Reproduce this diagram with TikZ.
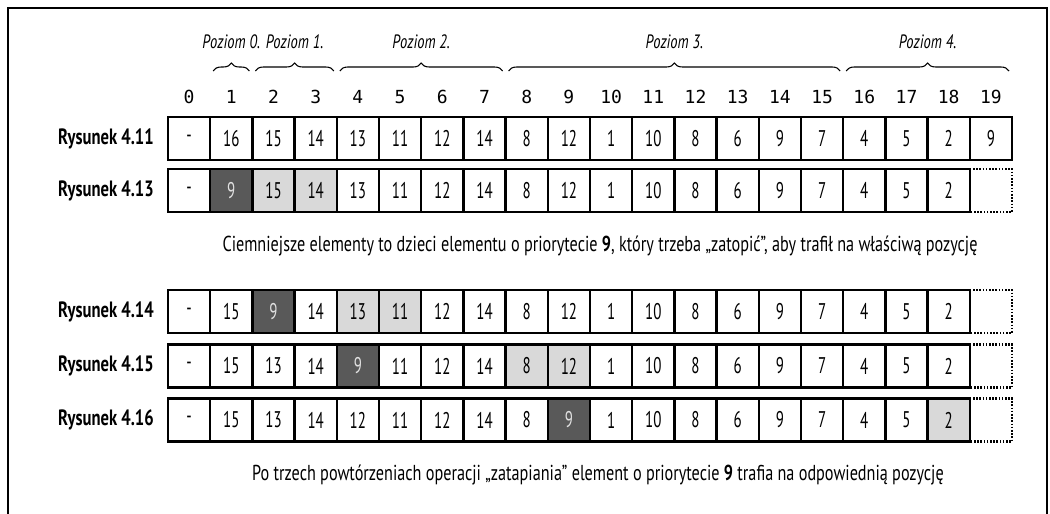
\documentclass[tikz,border=0pt]{standalone}
\usepackage{fontspec}
\setmainfont{PT Sans}[FakeStretch=0.75]
\setmonofont{DejaVu Sans Mono}
\newfontfamily\cellfont{PT Sans}[FakeStretch=0.66]
\usetikzlibrary{decorations.pathreplacing}

\definecolor{darkcell}{gray}{0.35}
\definecolor{lightcell}{gray}{0.85}
\definecolor{darktext}{gray}{0.88}

\tikzset{
  cell/.style={draw, line width=1.9pt, minimum width=31.65pt, minimum height=32.25pt,
    inner sep=0pt, outer sep=0pt, font=\cellfont\fontsize{17}{20}\selectfont},
  cp/.style={fill=white},
  cd/.style={fill=darkcell, text=darktext},
  cl/.style={fill=lightcell},
  ghost/.style={minimum width=31.65pt, minimum height=32.25pt, inner sep=0pt, outer sep=0pt},
  rowlabel/.style={anchor=east, inner sep=0pt, font=\bfseries\fontsize{16.6}{20}\selectfont},
  idx/.style={font=\ttfamily\fontsize{13.5}{16}\selectfont},
  level/.style={inner sep=0pt, font=\itshape\fontsize{14.5}{17}\selectfont},
  note/.style={font=\fontsize{16.2}{19}\selectfont},
  levelbrace/.style={decorate, decoration={brace, amplitude=6pt}, line width=0.8pt},
}

\begin{document}
\begin{tikzpicture}[x=0.75pt, y=-0.75pt]

        \useasboundingbox (0,0) rectangle (1050,514);

        % open frame, no bottom edge
        \draw[line width=2.2pt] (8,530) -- (8,8) -- (1047,8) -- (1047,530);

        % array indices
        \foreach \i in {0,...,19}
            \node[idx] (i\i) at ({189.1+42.2*\i},97) {\i};

        % heap levels
        \foreach \k/\a/\b in {0/1/1, 1/2/3, 2/4/7, 3/8/15, 4/16/19} {
            \pgfmathsetmacro{\xl}{168+42.2*\a+3}
            \pgfmathsetmacro{\xr}{168+42.2*(\b+1)-3}
            \draw[levelbrace] (\xl,71) -- (\xr,71);
            \node[level] (lev\k) at ({(\xl+\xr)/2},42) {Poziom \k.};
        }

        % rows of the heap array
        \foreach \r/\y/\lab/\cells in {
            1/138.5/4.11/{-/p,16/p,15/p,14/p,13/p,11/p,12/p,14/p,8/p,12/p,1/p,10/p,8/p,6/p,9/p,7/p,4/p,5/p,2/p,9/p},
            2/190.5/4.13/{-/p,9/d,15/l,14/l,13/p,11/p,12/p,14/p,8/p,12/p,1/p,10/p,8/p,6/p,9/p,7/p,4/p,5/p,2/p},
            3/311.5/4.14/{-/p,15/p,9/d,14/p,13/l,11/l,12/p,14/p,8/p,12/p,1/p,10/p,8/p,6/p,9/p,7/p,4/p,5/p,2/p},
            4/366/4.15/{-/p,15/p,13/p,14/p,9/d,11/p,12/p,14/p,8/l,12/l,1/p,10/p,8/p,6/p,9/p,7/p,4/p,5/p,2/p},
            5/420/4.16/{-/p,15/p,13/p,14/p,12/p,11/p,12/p,14/p,8/p,9/d,1/p,10/p,8/p,6/p,9/p,7/p,4/p,5/p,2/l}} {
            \node[rowlabel] (lab\r) at (154,\y) {Rysunek \lab};
            \foreach \v/\s [count=\c from 0] in \cells
                \node[cell, c\s] (r\r-\c) at ({189.1+42.2*\c},\y) {\v};
        }

        % empty slot after the last element
        \foreach \r in {2,...,5} {
            \node[ghost] (r\r-19) at (i19 |- r\r-18) {};
            \draw[line width=1.6pt, dash pattern=on 1.2pt off 1.2pt]
                (r\r-18.north east) -- (r\r-19.north east) -- (r\r-19.south east) -- (r\r-18.south east);
        }

        \node[note] (note1) at (600,246) {Ciemniejsze elementy to dzieci elementu o priorytecie \textbf{9}, który trzeba „zatopić”, aby trafił na właściwą pozycję};
        \node[note] (note2) at (598,475) {Po trzech powtórzeniach operacji „zatapiania” element o priorytecie \textbf{9} trafia na odpowiednią pozycję};

\end{tikzpicture}
\end{document}
